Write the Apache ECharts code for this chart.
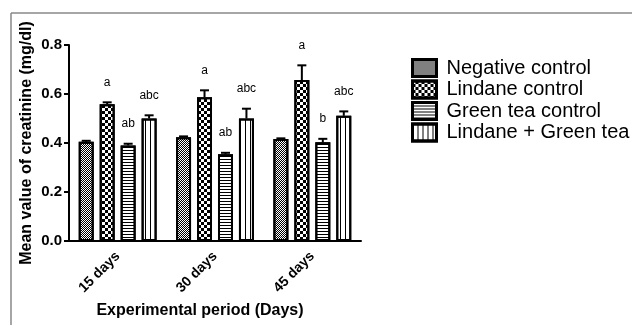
<!DOCTYPE html>
<html>
<head>
<meta charset="utf-8">
<script src="https://cdn.jsdelivr.net/npm/echarts@6/dist/echarts.min.js"></script>
<style>
html,body{margin:0;padding:0;background:#fff;}
#chart{width:632px;height:325px;}
</style>
</head>
<body>
<div id="chart"></div>
<script>
// ---- data ----
var categories = ['15 days', '30 days', '45 days'];
var seriesNames = ['Negative control', 'Lindane control', 'Green tea control', 'Lindane + Green tea'];
var negative = [0.405, 0.423, 0.416];
var negativeErr = [0.004, 0.004, 0.003];
var lindane = [0.558, 0.587, 0.657];
var lindaneErr = [0.008, 0.028, 0.060];
var greenTea = [0.390, 0.354, 0.403];
var greenTeaErr = [0.007, 0.006, 0.014];
var lindaneGreenTea = [0.500, 0.500, 0.511];
var lindaneGreenTeaErr = [0.013, 0.040, 0.018];
var negativeLetters = ['', '', ''];
var lindaneLetters = ['a', 'a', 'a'];
var greenTeaLetters = ['ab', 'ab', 'b'];
var lindaneGreenTeaLetters = ['abc', 'abc', 'abc'];
var yTicks = [0, 0.2, 0.4, 0.6, 0.8];

var values = [negative, lindane, greenTea, lindaneGreenTea];
var errors = [negativeErr, lindaneErr, greenTeaErr, lindaneGreenTeaErr];
var letters = [negativeLetters, lindaneLetters, greenTeaLetters, lindaneGreenTeaLetters];

var FONT = 'Liberation Sans, Arial, Helvetica, sans-serif';
var decals = [
  {symbol: 'rect', symbolSize: 1, color: '#000', dashArrayX: [[1, 1], [0, 1, 1, 0]], dashArrayY: [1, 0]},
  {symbol: 'rect', symbolSize: 1, color: '#000', dashArrayX: [[3, 3], [0, 3, 3, 0]], dashArrayY: [3, 0]},
  {symbol: 'rect', symbolSize: 1, color: '#000', dashArrayX: [1, 0], dashArrayY: [1, 2]},
  {symbol: 'rect', symbolSize: 1, color: '#000', dashArrayX: [1, 4], dashArrayY: [1, 0]}
];

var CAT_GAP = 0.2, BAR_GAP = 0.4, N = 4;

var series = [];
values.forEach(function (vals, k) {
  series.push({
    name: seriesNames[k],
    type: 'bar',
    data: vals,
    barGap: (BAR_GAP * 100) + '%',
    barCategoryGap: (CAT_GAP * 100) + '%',
    itemStyle: {color: '#fff', borderColor: '#000', borderWidth: 2, decal: decals[k]},
    emphasis: {disabled: true},
    z: 2
  });
});
values.forEach(function (vals, k) {
  series.push({
    name: 'err' + k,
    type: 'custom',
    clip: false,
    z: 3,
    encode: {x: 0, y: 1},
    data: vals.map(function (v, i) { return [i, v, errors[k][i]]; }),
    renderItem: function (params, api) {
      var i = api.value(0), v = api.value(1), e = api.value(2);
      var band = api.size([1, 0])[0];
      var bw = band * (1 - CAT_GAP) / (N + (N - 1) * BAR_GAP);
      var off = -band * (1 - CAT_GAP) / 2 + k * bw * (1 + BAR_GAP) + bw / 2;
      var p0 = api.coord([i, v]);
      var p1 = api.coord([i, v + e]);
      var x = p0[0] + off;
      var cap = 4.5;
      var children = [
        {type: 'line', shape: {x1: x, y1: p0[1], x2: x, y2: p1[1]}, style: {stroke: '#000', lineWidth: 2}},
        {type: 'line', shape: {x1: x - cap, y1: p1[1], x2: x + cap, y2: p1[1]}, style: {stroke: '#000', lineWidth: 2}}
      ];
      var t = letters[k][params.dataIndex];
      if (t) {
        children.push({type: 'text', style: {text: t, x: x, y: p1[1] - 20, textAlign: 'center', textVerticalAlign: 'middle', font: '12px ' + FONT, fill: '#000'}});
      }
      return {type: 'group', children: children};
    }
  });
});

var chart = echarts.init(document.getElementById('chart'), null, {renderer: 'canvas'});
chart.setOption({
  animation: false,
  backgroundColor: '#fff',
  textStyle: {fontFamily: FONT},
  grid: {left: 69, right: 271, top: 45, bottom: 84},
  legend: {
    data: seriesNames,
    orient: 'vertical',
    left: 406,
    top: 53,
    icon: 'rect',
    itemWidth: 24,
    itemHeight: 17,
    itemGap: 1.5,
    itemStyle: {borderWidth: 3, borderColor: '#000'},
    textStyle: {fontSize: 20, lineHeight: 18, color: '#000', fontFamily: FONT, padding: [0, 0, 0, 5]},
    selectedMode: false
  },
  xAxis: {
    type: 'category',
    data: categories,
    axisLine: {lineStyle: {color: '#000', width: 2}},
    axisTick: {alignWithLabel: true, length: 5, lineStyle: {color: '#000', width: 2}},
    axisLabel: {rotate: 45, fontSize: 14, fontWeight: 'bold', color: '#000', margin: 13, fontFamily: FONT}
  },
  yAxis: {
    type: 'value',
    min: 0,
    max: 0.8,
    interval: 0.2,
    name: 'Mean value of creatinine (mg/dl)',
    nameLocation: 'middle',
    nameGap: 34,
    nameTextStyle: {fontSize: 16, fontWeight: 'bold', color: '#000', fontFamily: FONT},
    axisLine: {show: true, lineStyle: {color: '#000', width: 2}},
    axisTick: {show: true, length: 5, lineStyle: {color: '#000', width: 2}},
    splitLine: {show: false},
    axisLabel: {fontSize: 15, fontWeight: 'bold', color: '#000', margin: 7, fontFamily: FONT,
      formatter: function (v) { return v.toFixed(1); }}
  },
  graphic: [
    {type: 'line', shape: {x1: 11, y1: 13, x2: 632, y2: 13}, style: {stroke: '#888', lineWidth: 1.5}},
    {type: 'line', shape: {x1: 11, y1: 13, x2: 11, y2: 325}, style: {stroke: '#888', lineWidth: 1.5}},
    {type: 'text', x: 200, y: 311, style: {text: 'Experimental period (Days)', textAlign: 'center', textVerticalAlign: 'middle', font: 'bold 16px ' + FONT, fill: '#000'}}
  ],
  series: series
});
</script>
</body>
</html>
